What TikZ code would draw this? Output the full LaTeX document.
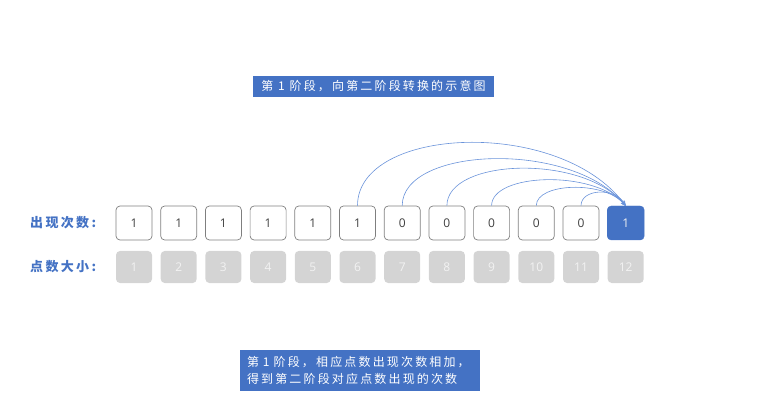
\documentclass[tikz,border=0pt]{standalone}
\usepackage{fontspec}
\setmainfont{Open Sans}
\newfontfamily\cjk[LetterSpace=18]{Noto Sans CJK SC}
\usetikzlibrary{arrows.meta}
\definecolor{mblue}{HTML}{4472C4}
\definecolor{arcblue}{HTML}{6A93DA}
\definecolor{gbox}{HTML}{D4D4D4}
\definecolor{gtext}{HTML}{F2F2F2}
\definecolor{bord}{HTML}{7F7F7F}
\definecolor{ntext}{HTML}{404040}
\begin{document}
\begin{tikzpicture}[x=1pt,y=-1pt,
  cntbox/.style={draw=bord,line width=0.7pt,rounded corners=4pt,minimum width=36pt,minimum height=34pt,inner sep=0pt,text=ntext,font=\fontsize{12}{14}\selectfont},
  hitbox/.style={fill=mblue,draw=mblue,rounded corners=4pt,minimum width=37pt,minimum height=34pt,inner sep=0pt,text=gtext,font=\fontsize{12}{14}\selectfont},
  sizebox/.style={fill=gbox,rounded corners=4pt,minimum width=36pt,minimum height=32pt,inner sep=0pt,text=gtext,font=\fontsize{12}{14}\selectfont},
  rowlabel/.style={text=mblue,font=\cjk\fontsize{13}{15}\selectfont\bfseries,inner sep=0pt,anchor=west},
  notebox/.style={fill=mblue,text=white,inner sep=0pt,align=left,font=\cjk\fontsize{12}{17}\selectfont},
  arc/.style={draw=arcblue,line width=0.6pt,-{Stealth[length=5pt,width=4pt]}}
]
\useasboundingbox (0,0) rectangle (757,403);
% title
\node[notebox,minimum width=241pt,minimum height=21pt] (title) at (373.5,86.5) {第 1 阶段，向第二阶段转换的示意图};
% row labels
\node[rowlabel] (lab1) at (30,223) {出现次数:};
\node[rowlabel] (lab2) at (30,267) {点数大小:};
% boxes
\foreach \i/\v in {1/1,2/1,3/1,4/1,5/1,6/1,7/0,8/0,9/0,10/0,11/0}{
  \node[cntbox] (c\i) at ({134+44.7*(\i-1)},223) {\v};
}
\node[hitbox] (c12) at ({134+44.7*11},223) {1};
\foreach \i in {1,...,12}{
  \node[sizebox] (s\i) at ({134+44.7*(\i-1)},267) {\i};
}
% arcs
\foreach \i/\r in {6/66,7/49,8/39,9/27,10/19,11/14}{
  \pgfmathsetmacro{\xs}{134+44.7*(\i-1)}
  \pgfmathsetmacro{\d}{625.7-\xs}
  \draw[arc] (c\i.north) .. controls +(0,{-1.2*\r}) and ({625.7-0.25*\d},{206-1.35*\r}) .. (c12.north);
}
% bottom note
\node[notebox,minimum width=240pt,minimum height=41pt,text width=226pt] (note) at (360,370.5) {第 1 阶段，相应点数出现次数相加，\\得到第二阶段对应点数出现的次数};
\end{tikzpicture}
\end{document}
